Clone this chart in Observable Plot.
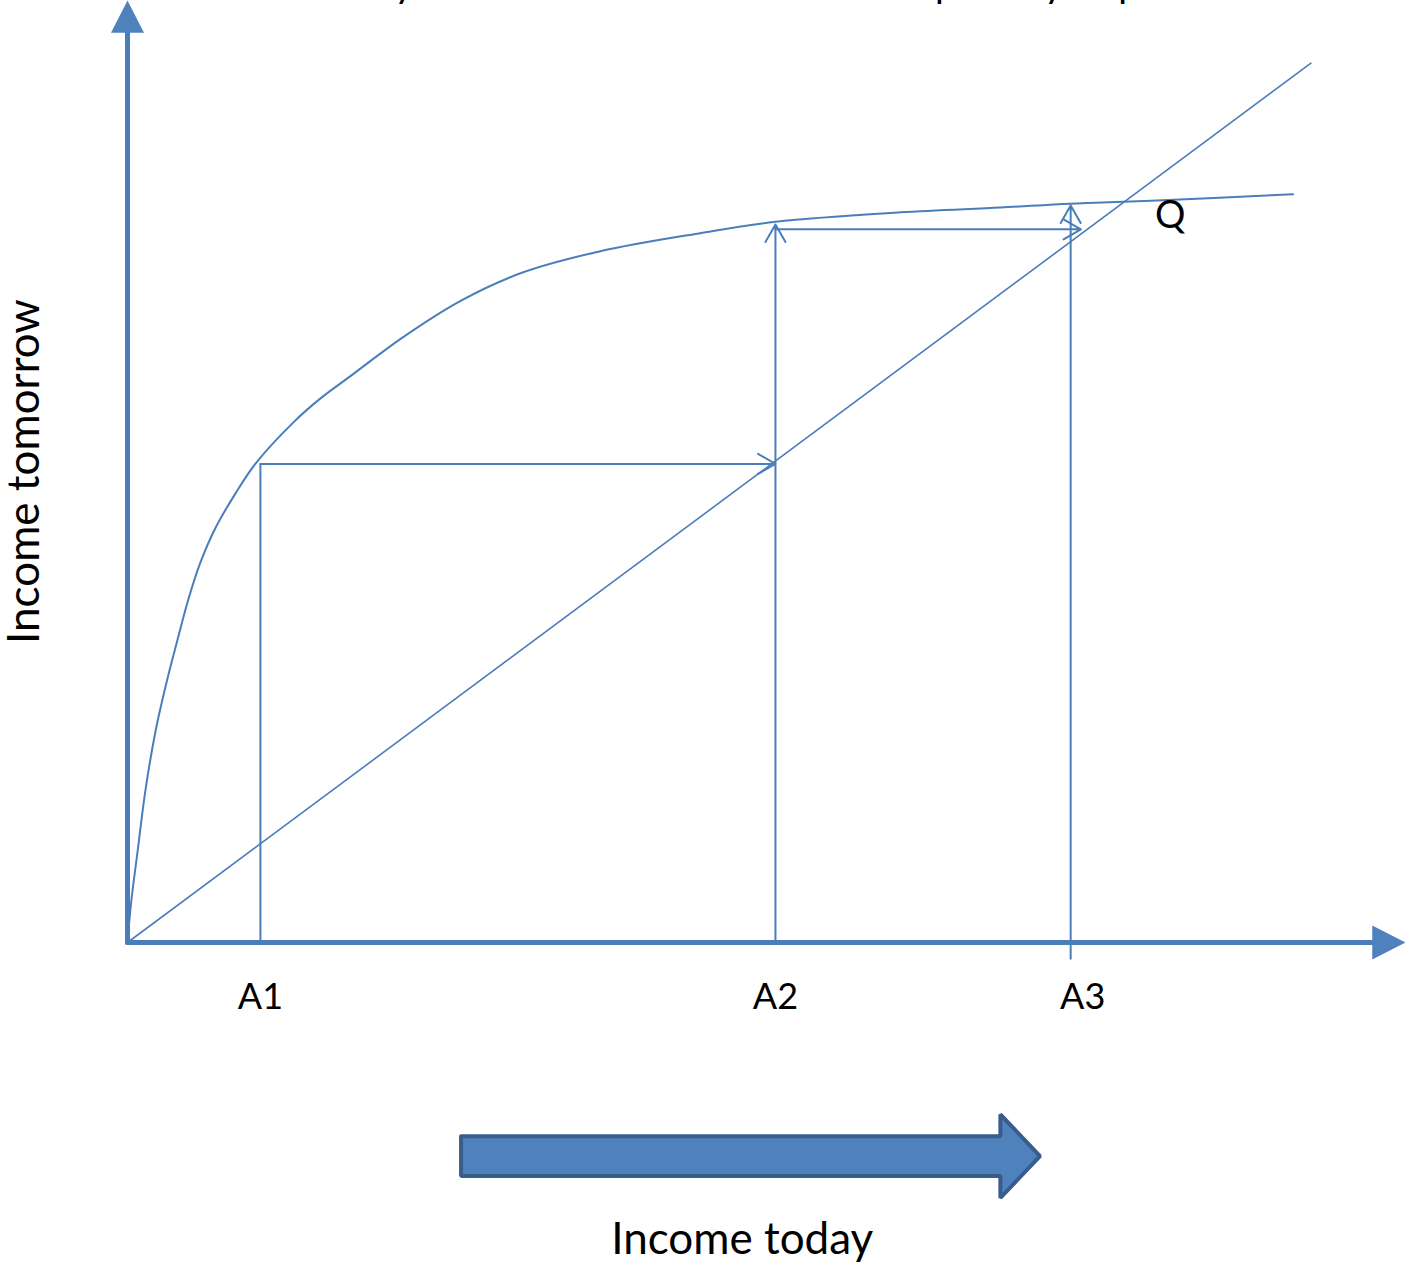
<!DOCTYPE html>
<html><head><meta charset="utf-8">
<script src="https://cdn.jsdelivr.net/npm/d3@7"></script>
<script src="https://cdn.jsdelivr.net/npm/@observablehq/plot@0.6"></script>
<style>html,body{margin:0;padding:0;background:#fff;} svg{display:block;}</style>
</head><body><div id="chart"></div>
<script>
// Concave income curve: income today -> income tomorrow
const incomeToday    = [0, 0.3, 0.8, 1.4, 2.2, 3.0, 3.8, 4.8, 5.7, 6.9, 8.5, 10.0, 13.0, 15.1, 17.5, 21.4, 26.1, 30.8, 37.0, 44.8, 50.7, 60.5, 68.3, 73.8, 80.1, 91.2];
const incomeTomorrow = [0, 4.4, 9.7, 16.0, 22.3, 27.1, 31.3, 36.3, 40.0, 43.7, 47.4, 50.4, 54.8, 57.3, 59.7, 63.6, 67.6, 70.5, 72.8, 74.7, 75.9, 76.9, 77.4, 77.8, 78.1, 78.8];
// 45-degree line
const diagonal = [0, 92.6];
// income levels A1..A3 and the steps between them
const levelLabels = ["A1", "A2", "A3"];
const levels = [10.4, 50.7, 73.8];
const verticalTops = [50.4, 75.6, 77.6];
const verticalBottoms = [0, 0, -1.7];
const stepHeights = [50.4, 75.1];
const stepEnds = [50.7, 74.6];
// axis extents
const xAxisEnd = 97.4, xAxisMax = 100;
const yAxisEnd = 95.8, yAxisMax = 99.2;
// texts
const titleText = "Income today and income tomorrow and the poverty trap.";
const xTitle = "Income today";
const yTitle = "Income tomorrow";
const equilibriumLabel = "Q";

const blue = "#4A7EBB";
const fillBlue = "#4F81BD";
const darkBlue = "#385D8A";

const curve = incomeToday.map((x, i) => ({x, y: incomeTomorrow[i]}));
const diag = diagonal.map(v => ({x: v, y: v}));
const verticals = levels.map((x, i) => ({x, y1: verticalBottoms[i], y2: verticalTops[i], label: levelLabels[i]}));
const steps = stepHeights.map((y, i) => ({x1: levels[i], x2: stepEnds[i], y}));

// axes with filled arrowheads
const yHeadW = 1.29, xHeadH = 1.79;
const yAxisLine = [{x: 0, y: 0}, {x: 0, y: yAxisEnd + 0.5}];
const xAxisLine = [{x: 0, y: 0}, {x: xAxisEnd + 0.2, y: 0}];
const yHead = [{x: -yHeadW, y: yAxisEnd}, {x: 0, y: yAxisMax}, {x: yHeadW, y: yAxisEnd}, {x: -yHeadW, y: yAxisEnd}];
const xHead = [{x: xAxisEnd, y: -xHeadH}, {x: xAxisMax, y: 0}, {x: xAxisEnd, y: xHeadH}, {x: xAxisEnd, y: -xHeadH}];

// block arrow under the chart
const bStart = 26.1, bEnd = 68.3, bTip = 71.4, bY = -22.5, bHalf = 2.1, hHalf = 4.4;
const blockArrow = [
  {x: bStart, y: bY + bHalf}, {x: bEnd, y: bY + bHalf}, {x: bEnd, y: bY + hHalf},
  {x: bTip, y: bY}, {x: bEnd, y: bY - hHalf}, {x: bEnd, y: bY - bHalf},
  {x: bStart, y: bY - bHalf}, {x: bStart, y: bY + bHalf}
];

const font = "Lato, 'Open Sans', sans-serif";

const chart = Plot.plot({
  width: 1405,
  height: 1262,
  marginLeft: 127,
  marginRight: 0,
  marginTop: 0,
  marginBottom: 320,
  style: {fontFamily: font, background: "#fff", color: "#000"},
  x: {domain: [0, 100], axis: null},
  y: {domain: [0, 99.2], axis: null},
  marks: [
    // title (cut off at top of the picture)
    Plot.text([titleText], {x: 42.3, y: 99.6, text: d => d, fontSize: 38, textAnchor: "middle", lineAnchor: "bottom", fill: "#000"}),
    // 45 degree line
    Plot.line(diag, {x: "x", y: "y", stroke: blue, strokeWidth: 1.6}),
    // income curve
    Plot.line(curve, {x: "x", y: "y", stroke: blue, strokeWidth: 2, curve: "catmull-rom"}),
    // A1 vertical (no head)
    Plot.ruleX(verticals.slice(0, 1), {x: "x", y1: "y1", y2: "y2", stroke: blue, strokeWidth: 2}),
    // A2, A3 vertical arrows
    Plot.arrow(verticals.slice(1), {x1: "x", x2: "x", y1: "y1", y2: "y2", stroke: blue, strokeWidth: 2, headLength: 15, headAngle: 60}),
    // horizontal step arrows
    Plot.arrow(steps, {x1: "x1", x2: "x2", y1: "y", y2: "y", stroke: blue, strokeWidth: 2, headLength: 15, headAngle: 60}),
    // axes
    Plot.line(yAxisLine, {x: "x", y: "y", stroke: blue, strokeWidth: 5}),
    Plot.line(xAxisLine, {x: "x", y: "y", stroke: blue, strokeWidth: 5}),
    Plot.line(yHead, {x: "x", y: "y", fill: fillBlue, stroke: "none"}),
    Plot.line(xHead, {x: "x", y: "y", fill: fillBlue, stroke: "none"}),
    // level labels
    Plot.text(verticals.slice(0, 2), {x: "x", y: -7.0, text: "label", fontSize: 36, textAnchor: "middle", lineAnchor: "bottom", fill: "#000"}),
    Plot.text(verticals.slice(2), {x: "x", y: -7.0, dx: 12, text: "label", fontSize: 36, textAnchor: "middle", lineAnchor: "bottom", fill: "#000"}),
    // Q label
    Plot.text([equilibriumLabel], {x: 80.4, y: 75.2, text: d => d, fontSize: 38, textAnchor: "start", lineAnchor: "bottom", fill: "#000"}),
    // block arrow
    Plot.line(blockArrow, {x: "x", y: "y", fill: fillBlue, stroke: darkBlue, strokeWidth: 4, strokeLinejoin: "miter"}),
    // axis titles
    Plot.text([xTitle], {x: 48.1, y: -32.8, text: d => d, fontSize: 44, textAnchor: "middle", lineAnchor: "bottom", fill: "#000"}),
    Plot.text([yTitle], {x: -6.9, y: 49.6, text: d => d, fontSize: 44, rotate: -90, textAnchor: "middle", lineAnchor: "bottom", fill: "#000"})
  ]
});
document.getElementById("chart").appendChild(chart);
</script>
</body></html>
